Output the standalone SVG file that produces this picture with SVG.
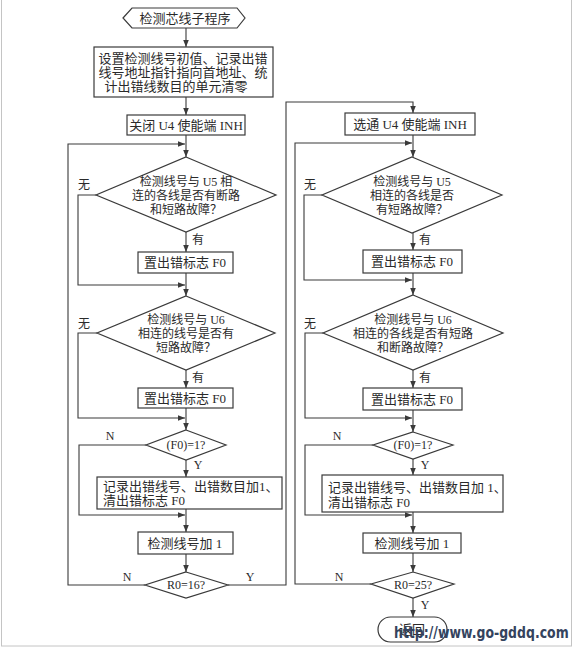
<svg xmlns="http://www.w3.org/2000/svg" width="574" height="648" viewBox="0 0 574 648">
<style>
.s{fill:#fff;stroke:#3a3a3a;stroke-width:1.2}
.t{font-family:"Liberation Serif","Noto Sans CJK SC",serif;font-size:13px;fill:#2a2a2a;text-anchor:middle;dominant-baseline:central}
.d{font-size:12px}
.l{text-anchor:start}
.c{fill:none;stroke:#3a3a3a;stroke-width:1.1}
.lab{font-family:"Liberation Serif","Noto Sans CJK SC",serif;font-size:12px;fill:#2a2a2a;text-anchor:middle;dominant-baseline:central}
</style>
<defs>
<marker id="a" viewBox="0 0 10 10" refX="10" refY="5" markerWidth="7" markerHeight="7" markerUnits="userSpaceOnUse" orient="auto">
<path d="M0,1 L10,5 L0,9 Z" fill="#3a3a3a"/>
</marker>
</defs>
<rect x="0" y="0" width="574" height="648" fill="#fff"/>
<rect x="1.5" y="-1" width="570" height="647" fill="none" stroke="#c4c4c4" stroke-width="1"/>

<g id="connectors">
<path class="c" d="M186,28 V47" marker-end="url(#a)"/>
<path class="c" d="M186,97 V115" marker-end="url(#a)"/>
<path class="c" d="M186,135 V157" marker-end="url(#a)"/>
<path class="c" d="M145,585 H68 V144 H185" marker-end="url(#a)"/>
<path class="c" d="M186,232 V252" marker-end="url(#a)"/>
<path class="c" d="M186,273 V296" marker-end="url(#a)"/>
<path class="c" d="M96,195 H78 V285 H185" marker-end="url(#a)"/>
<path class="c" d="M186,370 V388" marker-end="url(#a)"/>
<path class="c" d="M186,408 V430" marker-end="url(#a)"/>
<path class="c" d="M97,333 H78 V418 H185" marker-end="url(#a)"/>
<path class="c" d="M186,460 V477" marker-end="url(#a)"/>
<path class="c" d="M146,445 H79 V515 H185" marker-end="url(#a)"/>
<path class="c" d="M186,509 V532" marker-end="url(#a)"/>
<path class="c" d="M186,554 V572" marker-end="url(#a)"/>
<path class="c" d="M228,585 H286 V102 H413 V113" marker-end="url(#a)"/>
<path class="c" d="M413,135 V157" marker-end="url(#a)"/>
<path class="c" d="M371,584 H295 V143 H412" marker-end="url(#a)"/>
<path class="c" d="M413,233 V250" marker-end="url(#a)"/>
<path class="c" d="M413,273 V295" marker-end="url(#a)"/>
<path class="c" d="M322,195 H304 V280 H412" marker-end="url(#a)"/>
<path class="c" d="M413,370 V388" marker-end="url(#a)"/>
<path class="c" d="M413,410 V432" marker-end="url(#a)"/>
<path class="c" d="M323,333 H305 V418 H412" marker-end="url(#a)"/>
<path class="c" d="M413,459 V475" marker-end="url(#a)"/>
<path class="c" d="M373,445 H305 V515 H412" marker-end="url(#a)"/>
<path class="c" d="M413,512 V533" marker-end="url(#a)"/>
<path class="c" d="M413,553 V572" marker-end="url(#a)"/>
<path class="c" d="M413,598 V617" marker-end="url(#a)"/>
<text class="lab" x="84" y="185">无</text>
<text class="lab" x="198" y="240">有</text>
<text class="lab" x="84" y="324">无</text>
<text class="lab" x="198" y="378">有</text>
<text class="lab" x="110" y="436">N</text>
<text class="lab" x="198" y="465">Y</text>
<text class="lab" x="127" y="577">N</text>
<text class="lab" x="250" y="577">Y</text>
<text class="lab" x="310" y="185">无</text>
<text class="lab" x="425" y="240">有</text>
<text class="lab" x="310" y="324">无</text>
<text class="lab" x="425" y="378">有</text>
<text class="lab" x="337" y="436">N</text>
<text class="lab" x="425" y="465">Y</text>
<text class="lab" x="339" y="577">N</text>
<text class="lab" x="425" y="605">Y</text>
</g>

<g id="start">
<polygon class="s" points="123,18 132,8 237,8 245,18 237,28 132,28"/>
<text class="t" x="185" y="18">检测芯线子程序</text>
</g>
<g id="init">
<rect class="s" x="94" y="47" width="179" height="50"/>
<text class="t" x="183" y="58">设置检测线号初值、记录出错</text>
<text class="t" x="183" y="72">线号地址指针指向首地址、统</text>
<text class="t" x="176" y="86">计出错线数目的单元清零</text>
</g>
<g id="closeU4">
<rect class="s" x="127" y="115" width="118" height="20"/>
<text class="t" x="186" y="125">关闭 U4 使能端 INH</text>
</g>
<g id="l_d1">
<polygon class="s" points="186,157 276,195 186,232 96,195"/>
<text class="t d" x="186" y="182">检测线号与 U5 相</text>
<text class="t d" x="186" y="196">连的各线是否有断路</text>
<text class="t d" x="186" y="210">和短路故障？</text>
</g>
<g id="l_f1">
<rect class="s" x="138" y="252" width="95" height="21"/>
<text class="t" x="185" y="262.5">置出错标志 F0</text>
</g>
<g id="l_d2">
<polygon class="s" points="186,296 275,333 186,370 97,333"/>
<text class="t d" x="186" y="320">检测线号与 U6</text>
<text class="t d" x="186" y="334">相连的线号是否有</text>
<text class="t d" x="186" y="348">短路故障？</text>
</g>
<g id="l_f2">
<rect class="s" x="138" y="388" width="95" height="20"/>
<text class="t" x="185" y="398">置出错标志 F0</text>
</g>
<g id="l_d3">
<polygon class="s" points="186,430 226,445 186,460 146,445"/>
<text class="t d" x="186" y="445">(F0)=1?</text>
</g>
<g id="l_rec">
<rect class="s" x="97" y="477" width="185" height="32"/>
<text class="t l" x="103" y="486.5">记录出错线号、出错数目加1、</text>
<text class="t l" x="103" y="500.5">清出错标志 F0</text>
</g>
<g id="l_inc">
<rect class="s" x="138" y="532" width="95" height="22"/>
<text class="t" x="185" y="543">检测线号加 1</text>
</g>
<g id="l_d4">
<polygon class="s" points="186,572 228,585 186,598 145,585"/>
<text class="t d" x="186" y="585">R0=16?</text>
</g>

<g id="openU4">
<rect class="s" x="345" y="113" width="130" height="22"/>
<text class="t" x="410" y="124">选通 U4 使能端 INH</text>
</g>
<g id="r_d1">
<polygon class="s" points="412,157 502,195 412,233 322,195"/>
<text class="t d" x="412" y="182">检测线号与 U5</text>
<text class="t d" x="412" y="196">相连的各线是否</text>
<text class="t d" x="412" y="210">有短路故障？</text>
</g>
<g id="r_f1">
<rect class="s" x="363" y="250" width="99" height="23"/>
<text class="t" x="412" y="261.5">置出错标志 F0</text>
</g>
<g id="r_d2">
<polygon class="s" points="413,295 503,333 413,370 323,333"/>
<text class="t d" x="413" y="320">检测线号与 U6</text>
<text class="t d" x="413" y="334">相连的各线是否有短路</text>
<text class="t d" x="413" y="348">和断路故障？</text>
</g>
<g id="r_f2">
<rect class="s" x="363" y="388" width="99" height="22"/>
<text class="t" x="412" y="399">置出错标志 F0</text>
</g>
<g id="r_d3">
<polygon class="s" points="413,432 453,445 413,459 373,445"/>
<text class="t d" x="413" y="445">(F0)=1?</text>
</g>
<g id="r_rec">
<rect class="s" x="322" y="475" width="181" height="37"/>
<text class="t l" x="328" y="487">记录出错线号、出错数目加 1、</text>
<text class="t l" x="328" y="502">清出错标志 F0</text>
</g>
<g id="r_inc">
<rect class="s" x="363" y="533" width="98" height="20"/>
<text class="t" x="412" y="543">检测线号加 1</text>
</g>
<g id="r_d4">
<polygon class="s" points="413,572 454,584 413,598 371,584"/>
<text class="t d" x="413" y="585">R0=25?</text>
</g>
<g id="ret">
<rect class="s" x="378" y="617" width="69" height="25" rx="12.5" ry="12.5"/>
<text class="t" x="412" y="629">返回</text>
</g>
<text transform="translate(394,638) scale(1,1.2)" x="0" y="0" style="font-family:'DejaVu Sans',sans-serif;font-weight:bold;font-size:12.5px;fill:#34435e">http://www.go-gddq.com</text>
</svg>
